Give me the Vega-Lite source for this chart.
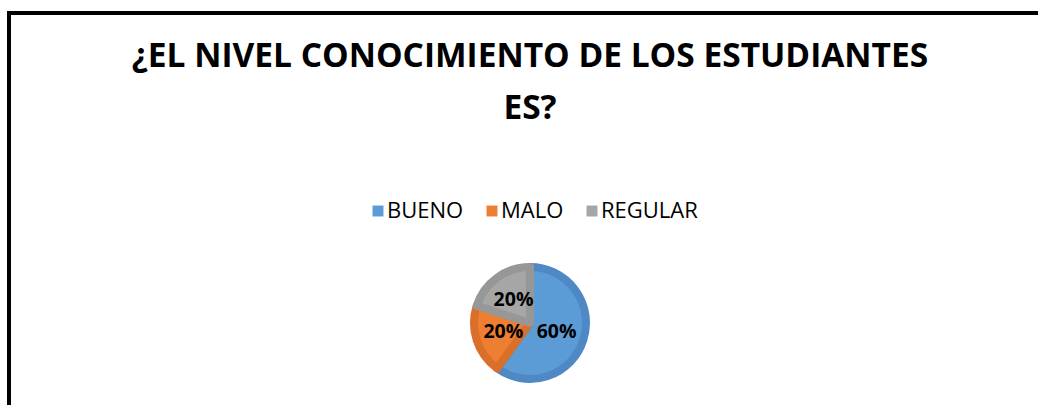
{
  "$schema": "https://vega.github.io/schema/vega-lite/v6.json",
  "width": 1042,
  "height": 620,
  "padding": {"left": 9, "top": 13, "right": 0, "bottom": 0},
  "autosize": {"type": "none"},
  "background": "white",
  "view": {"stroke": "black", "strokeWidth": 4, "fill": "white"},
  "config": {
    "font": "Open Sans"
  },
  "title": {
    "text": ["¿EL NIVEL CONOCIMIENTO DE LOS ESTUDIANTES", "ES?"],
    "font": "Open Sans",
    "fontSize": 33.5,
    "fontWeight": "bold",
    "color": "black",
    "anchor": "middle",
    "baseline": "top",
    "lineHeight": 52,
    "offset": -113
  },
  "data": {
    "values": [
      {"nivel": "BUENO", "valor": 60, "etiqueta": "60%"},
      {"nivel": "MALO", "valor": 20, "etiqueta": "20%"},
      {"nivel": "REGULAR", "valor": 20, "etiqueta": "20%"}
    ]
  },
  "encoding": {
    "theta": {"field": "valor", "type": "quantitative", "stack": true},
    "order": {"field": "nivel", "type": "nominal", "sort": "ascending"}
  },
  "layer": [
    {
      "mark": {"type": "arc", "outerRadius": 56, "strokeWidth": 8, "strokeJoin": "round"},
      "encoding": {
        "color": {
          "field": "nivel",
          "type": "nominal",
          "scale": {"domain": ["BUENO", "MALO", "REGULAR"], "range": ["#5C9CD6", "#EE7E32", "#A6A6A6"]},
          "legend": {
            "orient": "none",
            "direction": "horizontal",
            "legendX": 358,
            "legendY": 187,
            "title": null,
            "symbolType": "square",
            "symbolSize": 120,
            "symbolStrokeWidth": 0,
            "symbolOpacity": 1,
            "labelFontSize": 22,
            "labelFont": "Open Sans",
            "labelColor": "black",
            "labelOffset": -2,
            "columnPadding": 17
          }
        },
        "stroke": {
          "field": "nivel",
          "type": "nominal",
          "scale": {"domain": ["BUENO", "MALO", "REGULAR"], "range": ["#4F89C5", "#D96F28", "#979797"]},
          "legend": null
        }
      }
    },
    {
      "mark": {"type": "text", "radius": 28, "font": "Open Sans", "fontWeight": "bold", "fontSize": 19.5, "color": "black"},
      "encoding": {
        "text": {"field": "etiqueta", "type": "nominal"},
        "detail": {"field": "nivel", "type": "nominal"}
      }
    }
  ]
}
